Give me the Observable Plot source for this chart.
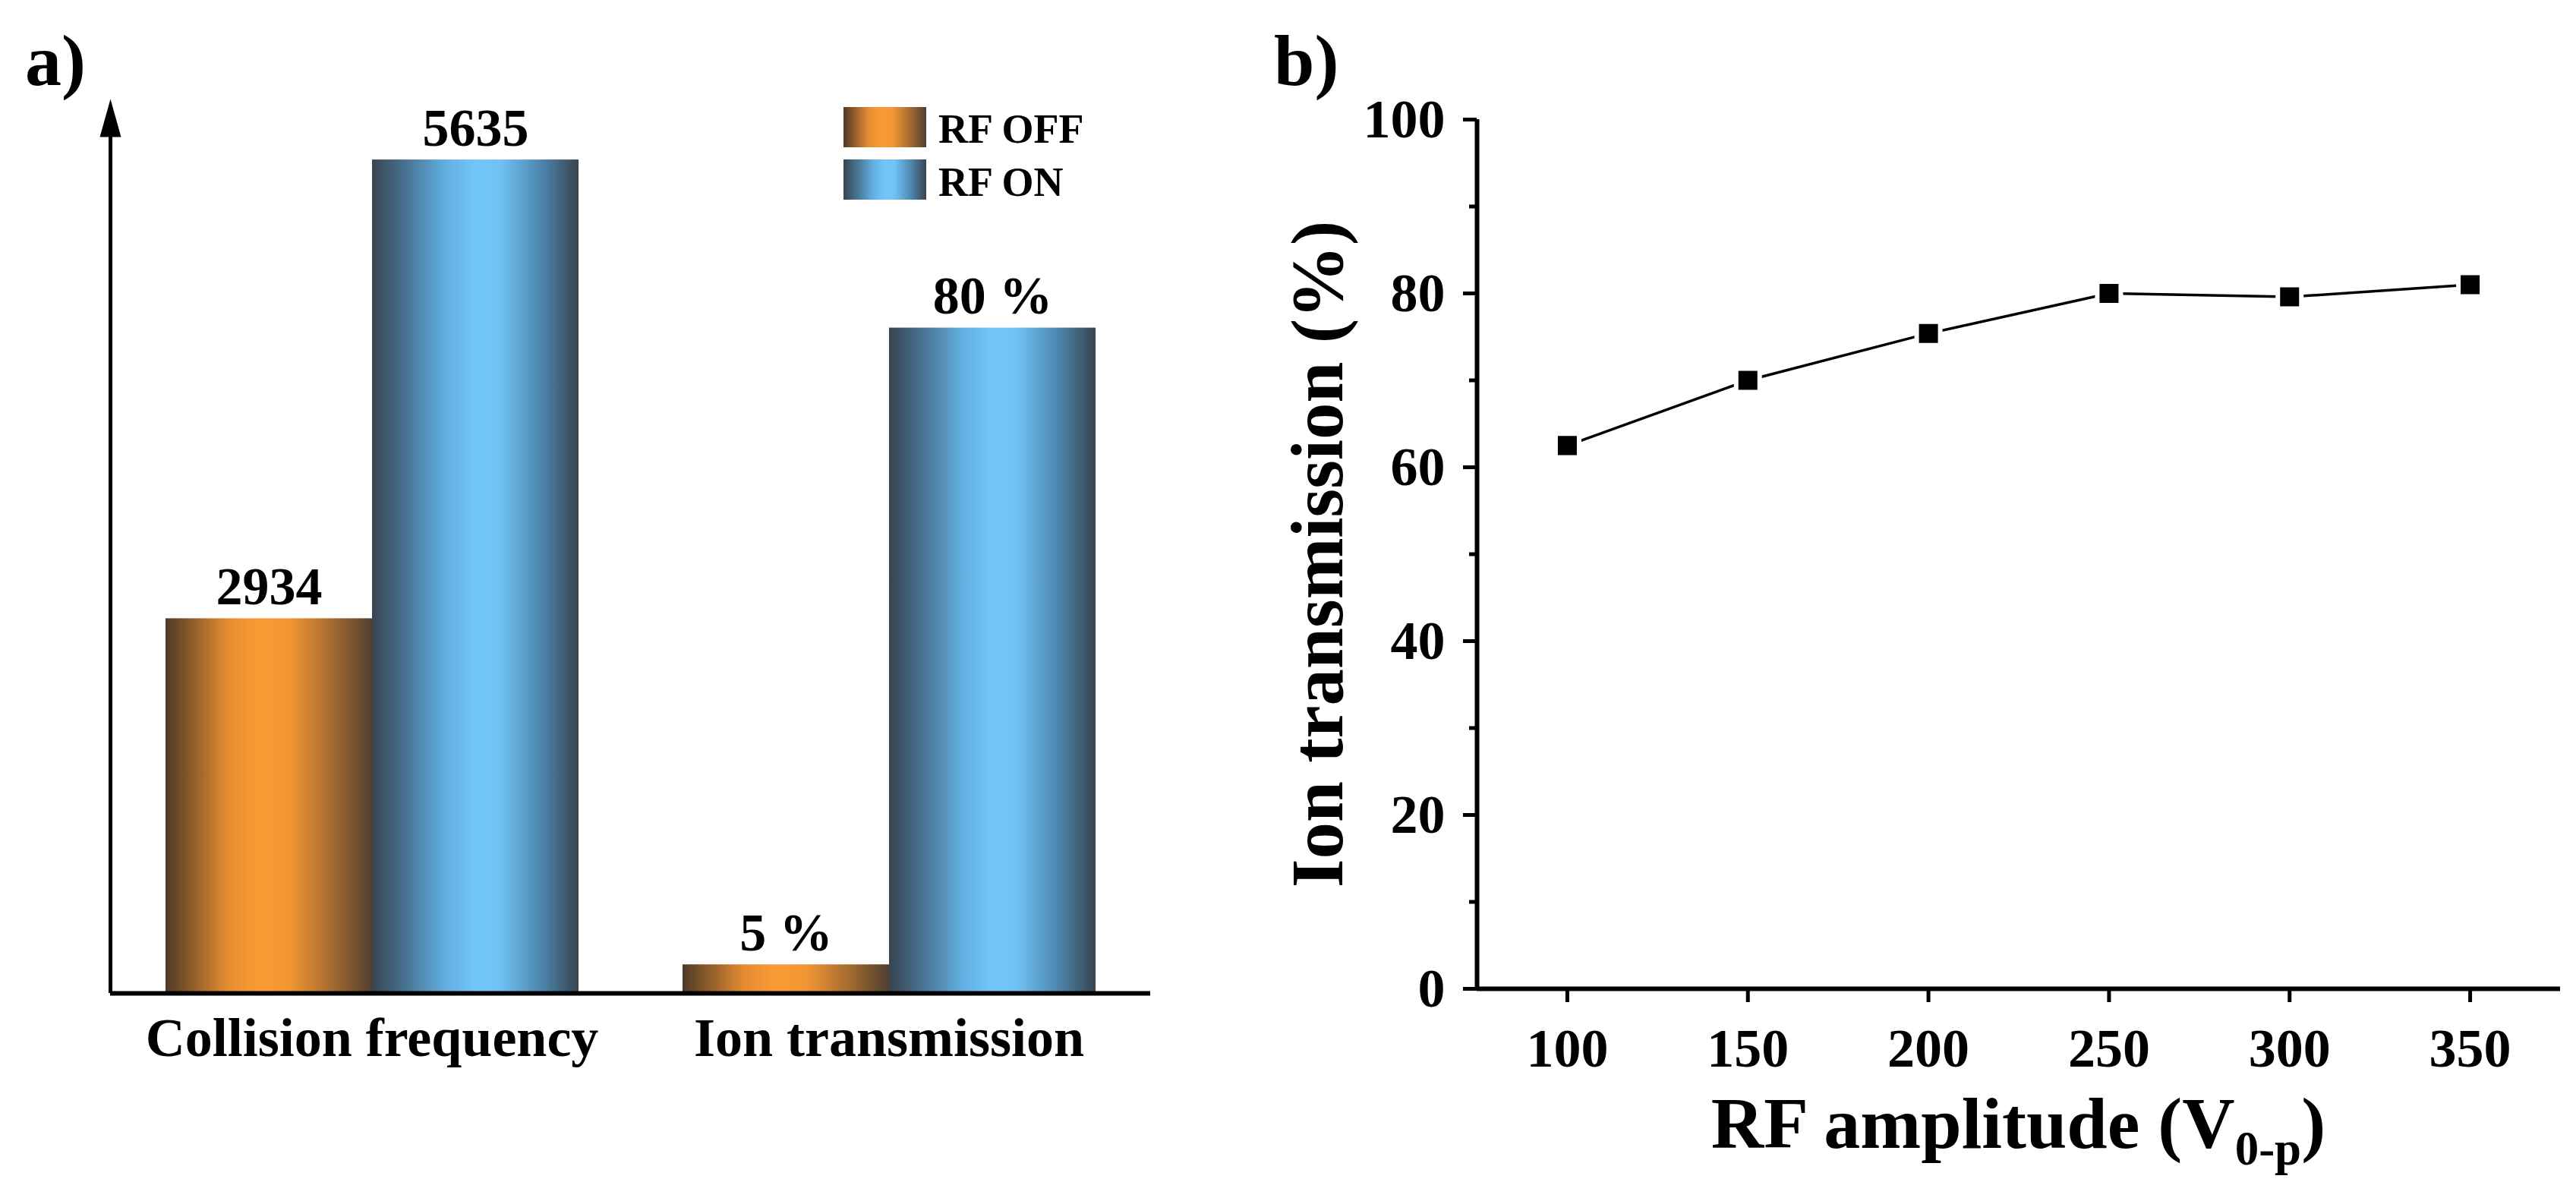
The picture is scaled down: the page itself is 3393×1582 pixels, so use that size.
<!DOCTYPE html>
<html>
<head>
<meta charset="utf-8">
<script src="https://cdn.jsdelivr.net/npm/d3@7"></script>
<script src="https://cdn.jsdelivr.net/npm/@observablehq/plot@0.6"></script>
<style>
  html, body { margin: 0; padding: 0; background: #fff; }
  #page { position: relative; width: 3393px; height: 1582px; overflow: hidden; background: #fff;
          font-family: "Liberation Serif", "Times New Roman", serif; font-weight: bold; color: #000; }
  .abs { position: absolute; }
  .panel-tag { font-size: 96px; line-height: 96px; }
  .leg-sw { position: absolute; width: 109px; height: 53px; }
  .leg-tx { position: absolute; font-size: 54px; line-height: 54px; white-space: nowrap; }
</style>
</head>
<body>
<div id="page">
  <svg style="position:absolute;width:0;height:0" aria-hidden="true">
    <defs>
      <linearGradient id="gOff" x1="0" x2="1" y1="0" y2="0">
        <stop offset="0" stop-color="#4d3a27"/>
        <stop offset="0.12" stop-color="#8a5a2a"/>
        <stop offset="0.3" stop-color="#e58c32"/>
        <stop offset="0.45" stop-color="#fb9b34"/>
        <stop offset="0.6" stop-color="#f29634"/>
        <stop offset="0.8" stop-color="#a86c30"/>
        <stop offset="1" stop-color="#4f3f30"/>
      </linearGradient>
      <linearGradient id="gOn" x1="0" x2="1" y1="0" y2="0">
        <stop offset="0" stop-color="#384451"/>
        <stop offset="0.15" stop-color="#466f8c"/>
        <stop offset="0.35" stop-color="#62ade0"/>
        <stop offset="0.5" stop-color="#73c6f9"/>
        <stop offset="0.62" stop-color="#70c2f4"/>
        <stop offset="0.82" stop-color="#4d86ad"/>
        <stop offset="1" stop-color="#374450"/>
      </linearGradient>
    </defs>
  </svg>
  <div class="abs" style="left:185px;top:4px;width:1540px;height:3px;background:#ececec"></div>
  <div id="panelA" class="abs" style="left:0;top:0"></div>
  <div id="panelAaxes" class="abs" style="left:0;top:0"></div>
  <div id="panelB" class="abs" style="left:1600px;top:0"></div>
  <div class="abs panel-tag" style="left:33px;top:32px">a)</div>
  <div class="abs panel-tag" style="left:1678px;top:32px">b)</div>
  <div id="legend"></div>
  <div id="xlabelB" class="abs" style="left:1945px;top:1432px;width:1427px;text-align:center;font-size:96px;line-height:96px;white-space:nowrap">RF amplitude (V<span style="font-size:63px;vertical-align:-22px;line-height:0">0-p</span>)</div>
</div>
<script>
// ---------- Panel a data ----------
const categories = ["Collision frequency", "Ion transmission"];
const series = ["RF OFF", "RF ON"];
// bar heights as drawn (percent of the arrow axis height)
const offHeights = [41.9, 3.2];
const onHeights = [93.2, 74.4];
const offLabels = ["2934", "5 %"];
const onLabels = ["5635", "80 %"];

// ---------- Panel b data ----------
const amplitudes = [100, 150, 200, 250, 300, 350];
const transmission = [62.5, 70.0, 75.4, 80.0, 79.6, 81.0];
const yTicksB = [0, 20, 40, 60, 80, 100];
const yMinorB = [10, 30, 50, 70, 90];
const xTicksB = [100, 150, 200, 250, 300, 350];

const FONT = "Liberation Serif, Times New Roman, serif";

const offRows = categories.map((c, i) => ({cat: c, series: series[0], h: offHeights[i], label: offLabels[i]}));
const onRows = categories.map((c, i) => ({cat: c, series: series[1], h: onHeights[i], label: onLabels[i]}));
const allRows = offRows.concat(onRows);

const dimsA = {width: 1600, height: 1582, marginLeft: 145, marginRight: 85, marginTop: 130, marginBottom: 274};

const plotA = Plot.plot({
  ...dimsA,
  style: {fontFamily: FONT, background: "white"},
  fx: {domain: categories, paddingInner: 0.2, paddingOuter: 0.105},
  x: {domain: series, padding: 0, axis: null},
  y: {domain: [0, 100], axis: null},
  marks: [
    Plot.barY(offRows, {fx: "cat", x: "series", y: "h", fill: "url(#gOff)"}),
    Plot.barY(onRows, {fx: "cat", x: "series", y: "h", fill: "url(#gOn)"}),
    Plot.text(allRows, {fx: "cat", x: "series", y: "h", text: "label", dy: -19, lineAnchor: "bottom",
      fontSize: 70, fontWeight: "bold", fill: "black"}),
    Plot.axisFx({anchor: "bottom", tickSize: 0, tickPadding: 31, fontSize: 72, fontWeight: "bold", label: null, fill: "black"})
  ]
});
document.getElementById("panelA").appendChild(plotA);

const arrowTip = {
  draw(context) {
    context.moveTo(0, 0);
    context.lineTo(-14, 50);
    context.lineTo(14, 50);
    context.closePath();
  }
};
const plotAaxes = Plot.plot({
  ...dimsA,
  style: {background: "transparent"},
  x: {domain: [0, 1], axis: null},
  y: {domain: [0, 100], axis: null},
  marks: [
    Plot.ruleY([0], {stroke: "black", strokeWidth: 6}),
    Plot.ruleX([0], {y1: 0, y2: 96, stroke: "black", strokeWidth: 5}),
    Plot.dot([{x: 0, y: 100}], {x: "x", y: "y", symbol: arrowTip, fill: "black", stroke: "none"})
  ]
});
document.getElementById("panelAaxes").appendChild(plotAaxes);

// legend (HTML)
const legend = document.getElementById("legend");
const legendGrads = [
  "linear-gradient(to right,#4d3a27 0%,#8a5a2a 12%,#e58c32 30%,#fb9b34 45%,#f29634 60%,#a86c30 80%,#4f3f30 100%)",
  "linear-gradient(to right,#384451 0%,#466f8c 15%,#62ade0 35%,#73c6f9 50%,#70c2f4 62%,#4d86ad 82%,#374450 100%)"
];
series.forEach((s, i) => {
  const sw = document.createElement("div");
  sw.className = "leg-sw";
  sw.style.left = "1111px";
  sw.style.top = (141 + i * 69) + "px";
  sw.style.background = legendGrads[i];
  legend.appendChild(sw);
  const tx = document.createElement("div");
  tx.className = "leg-tx";
  tx.style.left = "1236px";
  tx.style.top = (143 + i * 70) + "px";
  tx.textContent = s;
  legend.appendChild(tx);
});

// ---------- Panel b ----------
const rowsB = amplitudes.map((a, i) => ({a, t: transmission[i]}));
const plotB = Plot.plot({
  width: 1793, height: 1582,
  marginLeft: 345, marginRight: 21, marginTop: 157, marginBottom: 280,
  style: {fontFamily: FONT, background: "white"},
  x: {domain: [75, 375]},
  y: {domain: [0, 100]},
  marks: [
    Plot.ruleY([0], {stroke: "black", strokeWidth: 6}),
    Plot.ruleX([75], {stroke: "black", strokeWidth: 6}),
    Plot.axisY(yTicksB, {tickSize: 18, tickPadding: 24, strokeWidth: 5, fontSize: 72, fontWeight: "bold", label: null, fill: "black"}),
    Plot.axisY(yMinorB, {tickSize: 10, strokeWidth: 5, text: null, label: null}),
    Plot.axisX(xTicksB, {tickSize: 18, tickPadding: 33, strokeWidth: 5, fontSize: 72, fontWeight: "bold", label: null, fill: "black"}),
    Plot.text(["Ion transmission (%)"], {frameAnchor: "left", textAnchor: "middle", lineAnchor: "middle", rotate: -90, dx: -209,
      fontSize: 97, fontWeight: "bold", fill: "black"}),
    Plot.line(rowsB, {x: "a", y: "t", stroke: "black", strokeWidth: 3.5}),
    Plot.dot(rowsB, {x: "a", y: "t", symbol: "square", r: 17.5, fill: "black", stroke: "white", strokeWidth: 6})
  ]
});
document.getElementById("panelB").appendChild(plotB);
</script>
</body>
</html>
